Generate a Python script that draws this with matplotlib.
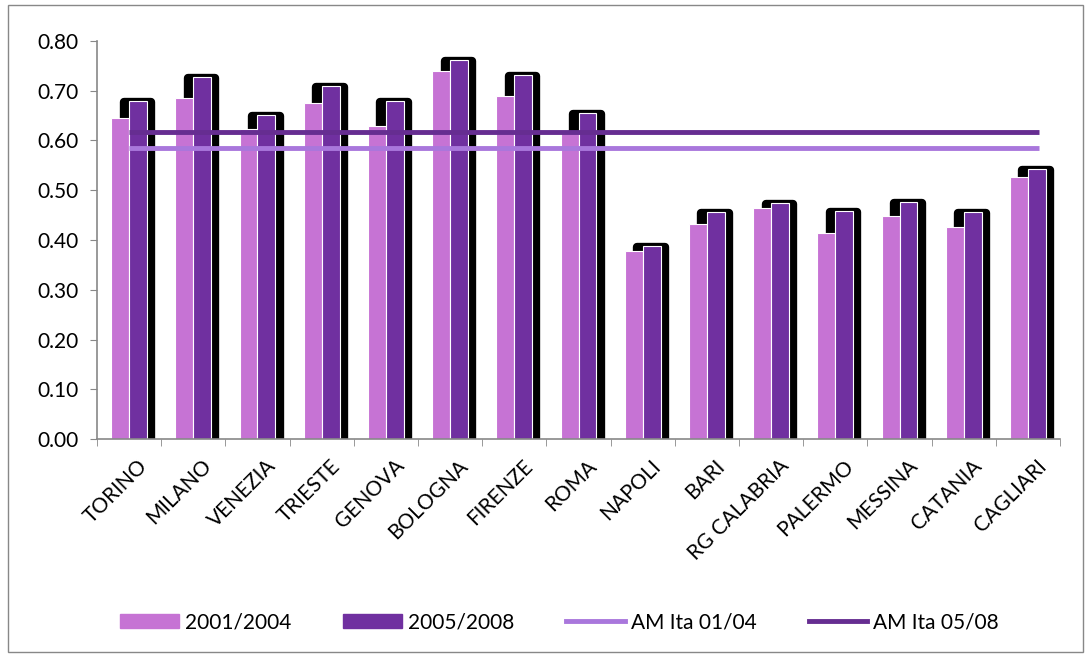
import numpy as np
import matplotlib.pyplot as plt
import matplotlib.transforms as mtransforms
from matplotlib.patches import Rectangle

plt.rcParams['font.family'] = ['Lato', 'DejaVu Sans']

cities = ["TORINO", "MILANO", "VENEZIA", "TRIESTE", "GENOVA", "BOLOGNA", "FIRENZE", "ROMA",
          "NAPOLI", "BARI", "RG CALABRIA", "PALERMO", "MESSINA", "CATANIA", "CAGLIARI"]
v0104 = [0.645, 0.685, 0.623, 0.675, 0.629, 0.740, 0.690, 0.620,
         0.378, 0.432, 0.465, 0.415, 0.448, 0.426, 0.527]
v0508 = [0.680, 0.727, 0.651, 0.710, 0.679, 0.762, 0.732, 0.655,
         0.388, 0.456, 0.474, 0.458, 0.476, 0.457, 0.543]
am_0104 = 0.585
am_0508 = 0.617

c_light = "#C673D4"
c_dark = "#7030A0"
c_line_light = "#A977DC"
c_line_dark = "#662D91"

fig = plt.figure(figsize=(10.91, 6.57), dpi=100)
ax = fig.add_axes([0.0889, 0.3318, 0.8827, 0.6058])

x = np.arange(len(cities))
w = 0.28

# shadow behind the dark bars
ax.bar(x + w / 2 - 0.01, np.array(v0508) - 0.002, w + 0.15, color="black", edgecolor="black",
       linewidth=6, joinstyle="round", zorder=1)
ax.bar(x - w / 2, v0104, w, color=c_light, edgecolor="white", linewidth=0.8, zorder=2)
ax.bar(x + w / 2, v0508, w, color=c_dark, edgecolor="white", linewidth=0.8, zorder=2)

ax.hlines(am_0104, 0, 14.17, color=c_line_light, linewidth=3.5, zorder=3)
ax.hlines(am_0508, 0, 14.17, color=c_line_dark, linewidth=3.5, zorder=3)

ax.set_xlim(-0.5, len(cities) - 0.5)
ax.set_ylim(0, 0.8)
ax.set_yticks(np.arange(0, 0.81, 0.1))
ax.set_yticklabels(["%.2f" % t for t in np.arange(0, 0.81, 0.1)], fontsize=15)
ax.set_xticks(x)
ax.set_xticklabels(cities, rotation=45, ha="right", rotation_mode="anchor", fontsize=15)
ax.set_xticks(np.arange(-0.5, len(cities)), minor=True)
ax.tick_params(axis="x", which="major", length=0, pad=12)
ax.tick_params(axis="x", which="minor", length=5, color="#888888")
ax.tick_params(axis="y", length=5, color="#888888", pad=8)

shift = mtransforms.ScaledTranslation(8 / 100, 0, fig.dpi_scale_trans)
for lbl in ax.get_xticklabels():
    lbl.set_transform(lbl.get_transform() + shift)

for s in ["top", "right"]:
    ax.spines[s].set_visible(False)
for s in ["left", "bottom"]:
    ax.spines[s].set_color("#888888")
    ax.spines[s].set_linewidth(1.2)

handles = [Rectangle((0, 0), 1, 1, color=c_light), Rectangle((0, 0), 1, 1, color=c_dark),
           plt.Line2D([], [], color=c_line_light, linewidth=3.5),
           plt.Line2D([], [], color=c_line_dark, linewidth=3.5)]
fig.legend(handles, ["2001/2004", "2005/2008", "AM Ita 01/04", "AM Ita 05/08"],
           loc="center", bbox_to_anchor=(0.513, 0.053), ncol=4, frameon=False,
           fontsize=15, columnspacing=2.5, handlelength=2.8, handletextpad=0.3)

fig.patches.append(Rectangle((8 / 1091, 5 / 657), 1075 / 1091, 647 / 657,
                             transform=fig.transFigure, fill=False,
                             edgecolor="#888888", linewidth=1))

fig.savefig("out.png", dpi=100)
